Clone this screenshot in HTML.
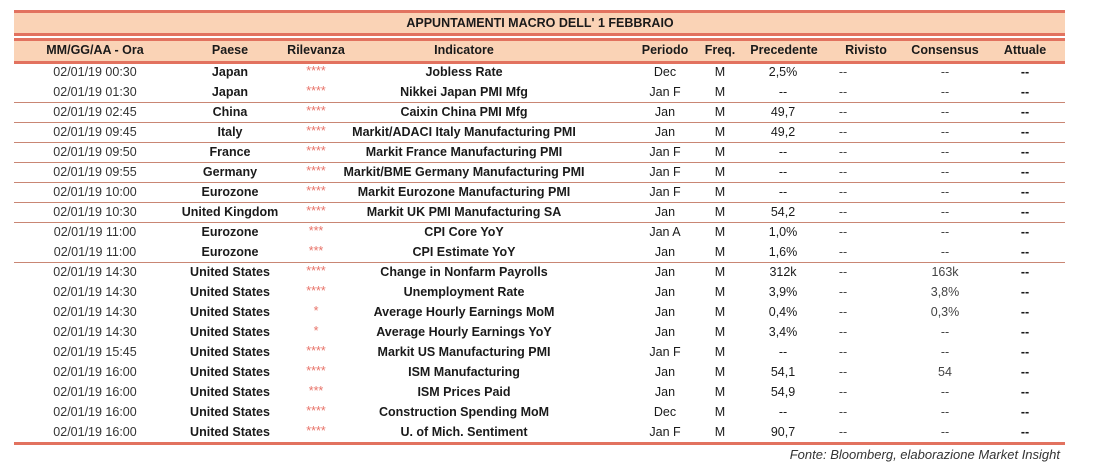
<!DOCTYPE html>
<html><head><meta charset="utf-8"><style>
body{margin:0;width:1099px;height:475px;background:#fff;position:relative;overflow:hidden;font-family:"Liberation Sans",sans-serif;color:#1a1a1a}
.abs{position:absolute}
.band{position:absolute;left:14px;width:1051px;background:#fad3b6}
.red{position:absolute;left:14px;width:1051px;background:#e2725f}
.c{position:absolute;text-align:center;white-space:nowrap;transform:translateX(-50%);font-size:12.5px}
.b{font-weight:bold}
.sep{position:absolute;left:14px;width:1051px;height:1px;background:#c98674}
.star{color:#e8746a;font-size:12.5px}
</style></head><body>
<div class="red" style="top:10px;height:3px"></div>
<div class="band" style="top:13px;height:20px"></div>
<div class="c b" style="left:540px;top:16px;font-size:12.5px">APPUNTAMENTI MACRO DELL' 1 FEBBRAIO</div>
<div class="red" style="top:33px;height:3px"></div>
<div class="red" style="top:38px;height:3px"></div>
<div class="band" style="top:41px;height:20px"></div>
<div class="red" style="top:61px;height:3px"></div>
<div id="hdr"></div>
<div id="rows"></div>
<div class="red" style="top:442px;height:3px"></div>
<div class="abs" style="right:39px;top:447px;font-style:italic;font-size:13px;color:#333">Fonte: Bloomberg, elaborazione Market Insight</div>
<script>
const headers=["MM/GG/AA - Ora","Paese","Rilevanza","Indicatore","Periodo","Freq.","Precedente","Rivisto","Consensus","Attuale"];
const dates=["02/01/19 00:30","02/01/19 01:30","02/01/19 02:45","02/01/19 09:45","02/01/19 09:50","02/01/19 09:55","02/01/19 10:00","02/01/19 10:30","02/01/19 11:00","02/01/19 11:00","02/01/19 14:30","02/01/19 14:30","02/01/19 14:30","02/01/19 14:30","02/01/19 15:45","02/01/19 16:00","02/01/19 16:00","02/01/19 16:00","02/01/19 16:00"];
const countries=["Japan","Japan","China","Italy","France","Germany","Eurozone","United Kingdom","Eurozone","Eurozone","United States","United States","United States","United States","United States","United States","United States","United States","United States"];
const stars=["****","****","****","****","****","****","****","****","***","***","****","****","*","*","****","****","***","****","****"];
const indicators=["Jobless Rate","Nikkei Japan PMI Mfg","Caixin China PMI Mfg","Markit/ADACI Italy Manufacturing PMI","Markit France Manufacturing PMI","Markit/BME Germany Manufacturing PMI","Markit Eurozone Manufacturing PMI","Markit UK PMI Manufacturing SA","CPI Core YoY","CPI Estimate YoY","Change in Nonfarm Payrolls","Unemployment Rate","Average Hourly Earnings MoM","Average Hourly Earnings YoY","Markit US Manufacturing PMI","ISM Manufacturing","ISM Prices Paid","Construction Spending MoM","U. of Mich. Sentiment"];
const periods=["Dec","Jan F","Jan","Jan","Jan F","Jan F","Jan F","Jan","Jan A","Jan","Jan","Jan","Jan","Jan","Jan F","Jan","Jan","Dec","Jan F"];
const previous=["2,5%","--","49,7","49,2","--","--","--","54,2","1,0%","1,6%","312k","3,9%","0,4%","3,4%","--","54,1","54,9","--","90,7"];
const consensus=["--","--","--","--","--","--","--","--","--","--","163k","3,8%","0,3%","--","--","54","--","--","--"];
const sepAfter=[2,3,4,5,6,7,8,10];
const colX=[95,230,316,464,665,720,783,843,945,1025];
const hdrX=[95,230,316,464,665,720,784,866,945,1025];
const hdr=document.getElementById('hdr');
headers.forEach((h,i)=>{const d=document.createElement('div');d.className='c b';d.style.left=hdrX[i]+'px';d.style.top='43px';d.textContent=h;


hdr.appendChild(d);});
const rows=document.getElementById('rows');
dates.forEach((dt,r)=>{const top=62+r*20+3;
const vals=[dt,countries[r],stars[r],indicators[r],periods[r],"M",previous[r],"--",consensus[r],"--"];
vals.forEach((v,i)=>{const d=document.createElement('div');d.className='c';
if(i==1||i==3||i==9)d.classList.add('b');
if(i==2)d.classList.add('star');
if(i==0){d.style.fontSize='12.5px';d.style.color='#333';}
if(i==7||i==8)d.style.color='#444';
d.style.left=colX[i]+'px';d.style.top=(i==2?top-1:top)+'px';d.textContent=v;


rows.appendChild(d);});});
sepAfter.forEach(k=>{const s=document.createElement('div');s.className='sep';s.style.top=(62+k*20)+'px';


rows.appendChild(s);});
</script>
</body></html>
